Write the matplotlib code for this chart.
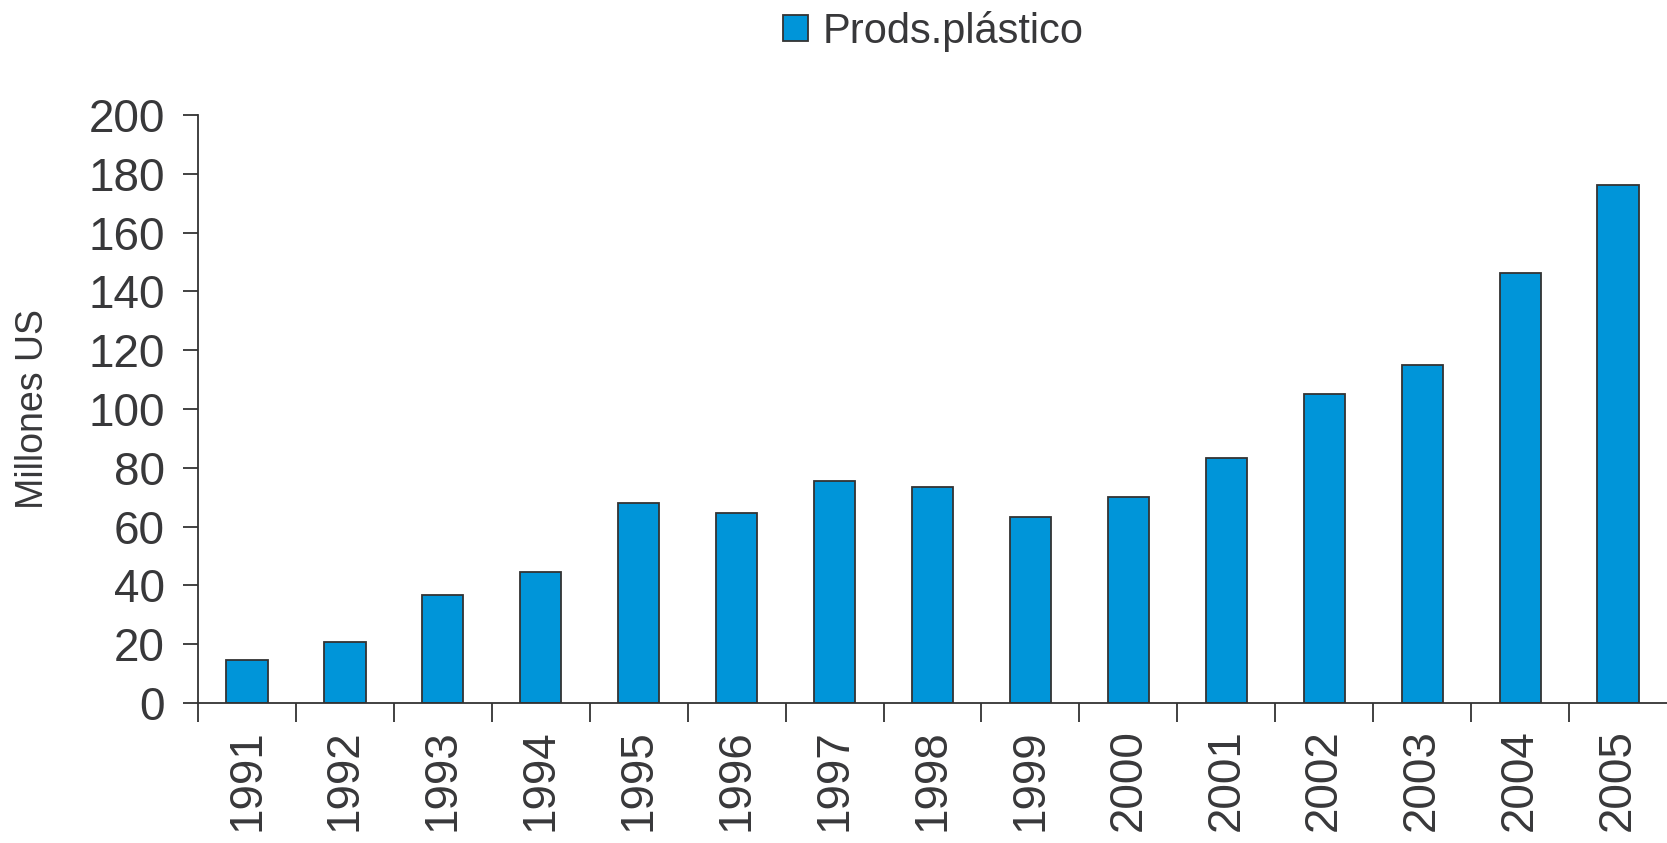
import numpy as np
import matplotlib.pyplot as plt

years = ['1991', '1992', '1993', '1994', '1995', '1996', '1997', '1998',
         '1999', '2000', '2001', '2002', '2003', '2004', '2005']
values = [14.5, 20.6, 36.9, 44.5, 68.0, 64.7, 75.6, 73.4,
          63.3, 70.2, 83.2, 105.2, 115.0, 146.1, 176.1]
series_name = 'Prods.plástico'

plt.rcParams['font.family'] = ['Liberation Sans', 'DejaVu Sans']
text_color = '#38383a'

fig = plt.figure(figsize=(16.67, 8.43), dpi=100)
ax = fig.add_axes([0.1188, 0.166, 0.8812, 0.6976])

x = np.arange(len(years))
ax.bar(x, values, width=0.42, color='#0095d9', edgecolor='#333333',
       linewidth=1.3, label=series_name, zorder=2)

ax.set_xlim(-0.5, len(years) - 0.5)
ax.set_ylim(0, 200)
ax.set_yticks(np.arange(0, 201, 20))

ax.set_xticks(x)
ax.set_xticklabels(years, rotation=90)
ax.set_xticks(np.arange(-0.5, len(years) - 1, 1.0), minor=True)
ax.tick_params(axis='x', which='major', length=0, pad=19, labelsize=33,
               labelcolor=text_color)
ax.tick_params(axis='x', which='minor', length=14, width=1.3,
               color='#333333', direction='out')
ax.tick_params(axis='y', length=11, width=1.3, color='#333333',
               labelsize=33, labelcolor=text_color, pad=13)

for s in ['top', 'right']:
    ax.spines[s].set_visible(False)
for s in ['left', 'bottom']:
    ax.spines[s].set_color('#333333')
    ax.spines[s].set_linewidth(1.3)

ax.set_ylabel('Millones US', fontsize=27, color=text_color)
ax.yaxis.set_label_coords(-0.1, 0.5)

leg = fig.legend(loc='center', bbox_to_anchor=(0.56, 0.963), frameon=False,
                 fontsize=30, handlelength=0.6, handleheight=0.6,
                 handletextpad=0.35, borderpad=0)
for t in leg.get_texts():
    t.set_color(text_color)

fig.savefig('out.png', dpi=100)
